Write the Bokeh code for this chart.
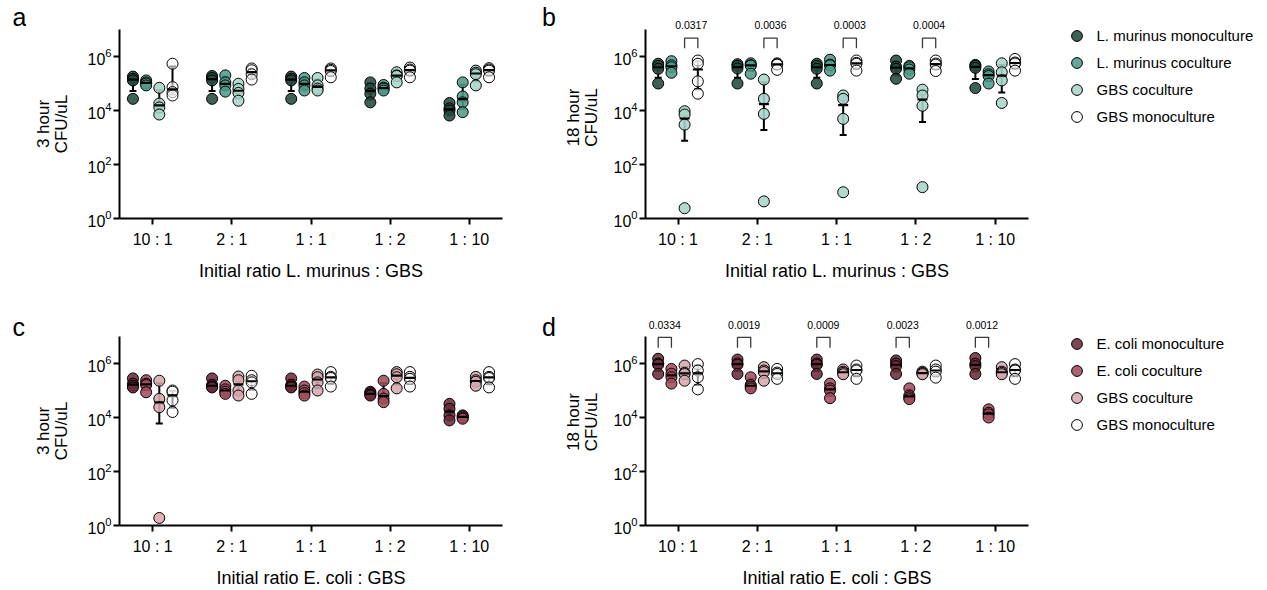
import numpy as np
from bokeh.plotting import figure
from bokeh.models import (Range1d, FixedTicker, Whisker, TeeHead, ColumnDataSource,
                          Legend, LegendItem, Label, LabelSet)
from bokeh.layouts import row, column
from bokeh.embed import file_html
from bokeh.resources import INLINE
from bokeh.core.properties import value

# ---------------- data ----------------
ratios = ["10 : 1", "2 : 1", "1 : 1", "1 : 2", "1 : 10"]

lm_labels = ["L. murinus monoculture", "L. murinus coculture", "GBS coculture", "GBS monoculture"]
ec_labels = ["E. coli monoculture", "E. coli coculture", "GBS coculture", "GBS monoculture"]

# panel a : 3 hour, L. murinus
a_lm_mono = [[1.8e5, 1.5e5, 1.3e5, 2.7e4], [1.9e5, 1.6e5, 1.3e5, 2.7e4], [1.8e5, 1.5e5, 1.3e5, 2.7e4],
             [1.1e5, 6.5e4, 4.2e4, 2.0e4], [1.9e4, 1.2e4, 1.0e4, 6.5e3]]
a_lm_co = [[1.3e5, 1.1e5, 1.0e5, 8.5e4], [2.0e5, 1.1e5, 8.5e4, 5.0e4], [1.6e5, 1.1e5, 8.5e4, 5.5e4],
           [8.8e4, 7.0e4, 6.5e4, 5.5e4], [1.1e5, 3.3e4, 2.0e4, 8.7e3]]
a_gbs_co = [[6.9e4, 1.8e4, 1.3e4, 7.1e3], [9.8e4, 6.3e4, 4.5e4, 2.3e4], [1.6e5, 8.5e4, 6.5e4, 5.5e4],
            [2.6e5, 2.0e5, 1.9e5, 1.1e5], [3.0e5, 2.5e5, 2.2e5, 8.5e4]]
a_gbs_mono = [[5.4e5, 7.3e4, 4.8e4, 3.6e4], [3.6e5, 3.1e5, 2.2e5, 1.4e5], [3.6e5, 3.2e5, 2.9e5, 1.7e5],
              [3.9e5, 3.3e5, 3.0e5, 1.7e5], [3.7e5, 3.3e5, 3.0e5, 1.7e5]]

# panel b : 18 hour, L. murinus
b_lm_mono = [[5.4e5, 4.5e5, 3.5e5, 1.0e5], [5.2e5, 4.5e5, 3.6e5, 1.0e5], [5.4e5, 4.5e5, 3.5e5, 1.0e5],
             [7.1e5, 4.2e5, 3.5e5, 1.5e5], [4.9e5, 4.5e5, 3.8e5, 6.8e4]]
b_lm_co = [[6.7e5, 4.7e5, 4.0e5, 2.5e5], [5.6e5, 4.8e5, 4.6e5, 2.3e5], [7.6e5, 5.0e5, 4.7e5, 3.0e5],
           [4.5e5, 4.0e5, 3.3e5, 2.3e5], [2.8e5, 2.2e5, 1.9e5, 1.0e5]]
b_gbs_co = [[9.4e3, 7.1e3, 3.0e3, 2.4], [1.4e5, 2.7e4, 7.5e3, 4.3], [3.6e4, 2.7e4, 4.9e3, 9.4],
            [5.9e4, 3.6e4, 1.5e4, 14.5], [5.6e5, 2.6e5, 1.3e5, 1.9e4]]
b_gbs_mono = [[7.1e5, 5.4e5, 1.2e5, 4.2e4], [5.6e5, 5.2e5, 5.0e5, 3.2e5], [7.1e5, 5.8e5, 5.4e5, 3.0e5],
              [7.1e5, 5.5e5, 5.0e5, 2.9e5], [8.1e5, 6.0e5, 5.5e5, 3.0e5]]
b_pvals = ["0.0317", "0.0036", "0.0003", "0.0004"]

# panel c : 3 hour, E. coli
c_ec_mono = [[2.8e5, 1.8e5, 1.5e5, 1.3e5], [2.8e5, 1.6e5, 1.4e5, 1.3e5], [2.8e5, 1.6e5, 1.4e5, 1.3e5],
             [9.0e4, 8.0e4, 7.0e4, 6.5e4], [3.2e4, 2.1e4, 1.2e4, 7.8e3]]
c_ec_co = [[2.4e5, 1.8e5, 1.6e5, 8.6e4], [1.5e5, 1.1e5, 9.0e4, 7.5e4], [1.4e5, 1.0e5, 8.0e4, 6.5e4],
           [2.3e5, 7.5e4, 5.0e4, 3.7e4], [1.2e4, 1.1e4, 1.0e4, 9.0e3]]
c_gbs_co = [[2.3e5, 4.9e4, 2.4e4, 1.9], [3.3e5, 2.4e5, 1.0e5, 6.5e4], [3.9e5, 3.1e5, 2.0e5, 1.0e5],
            [4.8e5, 4.0e5, 3.1e5, 1.2e5], [3.2e5, 2.4e5, 2.1e5, 1.5e5]]
c_gbs_mono = [[1.0e5, 9.0e4, 4.3e4, 1.6e4], [3.5e5, 2.4e5, 2.0e5, 7.5e4], [4.8e5, 3.2e5, 2.9e5, 1.4e5],
              [4.8e5, 3.2e5, 2.7e5, 1.4e5], [4.8e5, 3.2e5, 2.9e5, 1.3e5]]

# panel d : 18 hour, E. coli
d_ec_mono = [[1.5e6, 1.0e6, 9.0e5, 4.1e5], [1.4e6, 1.0e6, 9.0e5, 4.1e5], [1.4e6, 1.0e6, 9.0e5, 4.1e5],
             [1.3e6, 1.0e6, 8.0e5, 4.1e5], [1.6e6, 9.8e5, 8.0e5, 4.1e5]]
d_ec_co = [[6.3e5, 4.2e5, 3.1e5, 1.8e5], [3.1e5, 1.6e5, 1.4e5, 1.2e5], [1.8e5, 1.2e5, 1.0e5, 5.2e4],
           [1.2e5, 6.5e4, 5.6e4, 4.8e4], [2.0e4, 1.5e4, 1.3e4, 1.0e4]]
d_gbs_co = [[8.4e5, 4.5e5, 4.1e5, 2.3e5], [7.3e5, 5.5e5, 4.8e5, 2.3e5], [6.0e5, 5.0e5, 4.5e5, 4.0e5],
            [5.0e5, 4.5e5, 4.3e5, 4.0e5], [7.3e5, 5.0e5, 4.5e5, 4.0e5]]
d_gbs_mono = [[9.5e5, 5.5e5, 3.1e5, 1.1e5], [6.3e5, 4.6e5, 4.1e5, 2.7e5], [8.4e5, 6.0e5, 5.5e5, 2.7e5],
              [8.4e5, 6.0e5, 5.0e5, 3.0e5], [9.5e5, 6.0e5, 5.5e5, 2.7e5]]
d_pvals = ["0.0334", "0.0019", "0.0009", "0.0023", "0.0012"]

# ---------------- style ----------------
FONT = "Liberation Sans"
lm_colors = ["#254a40", "#4e9b8b", "#a9d5ca", "#ffffff"]
ec_colors = ["#6b2c3a", "#a24d5e", "#d7a9ae", "#ffffff"]
OFFSETS = [-0.25, -0.083, 0.083, 0.25]
PX_DEC = 27.0          # pixels per decade on the y axes
TOTAL_H = 587


def make_panel(ylabel, xlabel, series, colors, labels, xmin, frame_h, top_border,
               bottom_border, left_border, right_border, ylab_standoff=14,
               xl_standoff=(6, 10), pvals=None, pair=None, p_y=None, br_top=None,
               br_bot=None, show_legend=False, legend_y=88.0):
    p = figure(frame_width=383, frame_height=frame_h, y_axis_type="log",
               x_range=Range1d(xmin, 4.42), y_range=Range1d(1, 10 ** (frame_h / PX_DEC)),
               output_backend="svg", toolbar_location=None,
               min_border_left=left_border, min_border_right=right_border,
               min_border_top=top_border, min_border_bottom=bottom_border)
    p.outline_line_color = None
    p.xgrid.visible = False
    p.ygrid.visible = False

    for ax in (p.xaxis[0], p.yaxis[0]):
        ax.axis_line_width = 2
        ax.axis_line_color = "black"
        ax.major_tick_line_width = 2
        ax.major_tick_line_color = "black"
        ax.major_tick_out = 6
        ax.major_tick_in = 0
        ax.minor_tick_line_color = None
        ax.major_label_text_font = FONT
        ax.major_label_text_font_size = "16px"
        ax.major_label_text_color = "black"
        ax.axis_label_text_font = FONT
        ax.axis_label_text_font_style = "normal"
        ax.axis_label_text_color = "black"
        ax.axis_label_text_line_height = 0.95

    p.xaxis.axis_label_text_font_size = "18px"
    p.yaxis.axis_label_text_font_size = "17px"

    p.yaxis.ticker = FixedTicker(ticks=[1, 1e2, 1e4, 1e6])
    p.yaxis.bounds = (1, 1e7)
    p.yaxis.major_label_standoff = 2
    p.yaxis.axis_label = ylabel
    p.yaxis.axis_label_standoff = ylab_standoff

    p.xaxis.ticker = FixedTicker(ticks=list(range(len(ratios))))
    p.xaxis.major_label_overrides = {i: r for i, r in enumerate(ratios)}
    p.xaxis.major_label_standoff = xl_standoff[0]
    p.xaxis.axis_label = xlabel
    p.xaxis.axis_label_standoff = xl_standoff[1]

    # significance brackets
    if pvals:
        i, j = pair
        n = len(pvals)
        bxs = [[g + OFFSETS[i], g + OFFSETS[i], g + OFFSETS[j], g + OFFSETS[j]] for g in range(n)]
        bys = [[10 ** br_bot, 10 ** br_top, 10 ** br_top, 10 ** br_bot] for _ in range(n)]
        p.multi_line(bxs, bys, line_color="#3a3a3a", line_width=1.3)

    # individual points
    renderers = []
    for si, (groups, color) in enumerate(zip(series, colors)):
        xs, ys = [], []
        for gi, vals in enumerate(groups):
            for v in vals:
                xs.append(gi + OFFSETS[si])
                ys.append(v)
        r = p.scatter(xs, ys, size=11, fill_color=color,
                      fill_alpha=0.6 if color == "#ffffff" else 0.88,
                      line_color="black", line_width=1)
        renderers.append(r)

    # median with interquartile range
    for si, groups in enumerate(series):
        gx, med, q1, q3 = [], [], [], []
        for gi, vals in enumerate(groups):
            a, m, b = np.percentile(np.array(vals), [25, 50, 75], method="weibull")
            gx.append(gi + OFFSETS[si])
            q1.append(a)
            med.append(m)
            q3.append(b)
        src = ColumnDataSource(dict(x=gx, med=med, q1=q1, q3=q3))
        p.scatter("x", "med", source=src, marker="dash", size=10,
                  line_color="black", line_width=2.2)
        p.add_layout(Whisker(source=src, base="x", lower="q1", upper="q3",
                             dimension="height", line_width=2, line_color="black",
                             lower_head=TeeHead(size=7, line_width=2, line_color="black"),
                             upper_head=TeeHead(size=7, line_width=2, line_color="black")))

    if pvals:
        i, j = pair
        px = [g + (OFFSETS[i] + OFFSETS[j]) / 2 for g in range(len(pvals))]
        lsrc = ColumnDataSource(dict(x=px, y=[10 ** p_y] * len(pvals), t=pvals))
        p.add_layout(LabelSet(source=lsrc, x="x", y="y", text="t",
                              text_align="center", text_baseline="middle",
                              text_font=value(FONT), text_font_size="10.5px",
                              text_color="black"))

    if show_legend:
        items = [LegendItem(label=lab, renderers=[r]) for lab, r in zip(labels, renderers)]
        leg = Legend(items=items, location=(34.5, legend_y), glyph_width=27, glyph_height=27,
                     spacing=0, padding=0, margin=20, label_standoff=7,
                     label_text_font=FONT, label_text_font_size="15px",
                     label_text_color="black",
                     border_line_color=None, background_fill_alpha=0)
        p.add_layout(leg, "right")
    return p


def letters_fig(width, texts):
    f = figure(width=width, height=TOTAL_H, x_range=Range1d(0, 1), y_range=Range1d(0, 1),
               x_axis_location=None, y_axis_location=None, output_backend="svg",
               toolbar_location=None, min_border=0)
    f.outline_line_color = None
    f.xgrid.visible = False
    f.ygrid.visible = False
    for txt, lx, ly in texts:
        f.add_layout(Label(x=lx, y=ly, x_units="screen", y_units="screen", text=txt,
                           text_font=FONT, text_font_size="25px",
                           text_baseline="top", text_color="black"))
    return f


# panel letters (tops of their text boxes at y = 2 and y = 312 from the page top)
la = letters_fig(26, [("a", 12, TOTAL_H - 2), ("c", 12, TOTAL_H - 312)])
lb = letters_fig(16, [("b", 1.5, TOTAL_H - 2), ("d", 1.5, TOTAL_H - 312)])

pa = make_panel("3 hour\nCFU/uL", "Initial ratio L. murinus : GBS",
                [a_lm_mono, a_lm_co, a_gbs_co, a_gbs_mono], lm_colors, lm_labels,
                xmin=-0.42, frame_h=189, top_border=29, bottom_border=98,
                left_border=93, right_border=38, ylab_standoff=13, xl_standoff=(6, 10))
pc = make_panel("3 hour\nCFU/uL", "Initial ratio E. coli : GBS",
                [c_ec_mono, c_ec_co, c_gbs_co, c_gbs_mono], ec_colors, ec_labels,
                xmin=-0.42, frame_h=189, top_border=20, bottom_border=62,
                left_border=93, right_border=38, ylab_standoff=13, xl_standoff=(6, 10))
pb = make_panel("18 hour\nCFU/uL", "Initial ratio L. murinus : GBS",
                [b_lm_mono, b_lm_co, b_gbs_co, b_gbs_mono], lm_colors, lm_labels,
                xmin=-0.41, frame_h=202, top_border=16, bottom_border=98,
                left_border=89, right_border=232, ylab_standoff=9, xl_standoff=(6, 10),
                pvals=b_pvals, pair=(2, 3), p_y=7.18, br_top=6.68, br_bot=6.31,
                show_legend=True, legend_y=88.5)
pd_ = make_panel("18 hour\nCFU/uL", "Initial ratio E. coli : GBS",
                 [d_ec_mono, d_ec_co, d_gbs_co, d_gbs_mono], ec_colors, ec_labels,
                 xmin=-0.41, frame_h=207, top_border=2, bottom_border=62,
                 left_border=89, right_border=232, ylab_standoff=9, xl_standoff=(6, 10),
                 pvals=d_pvals, pair=(0, 1), p_y=7.43, br_top=6.97, br_bot=6.58,
                 show_legend=True, legend_y=87.5)

layout = row(la, column(pa, pc), lb, column(pb, pd_))

open("out.html", "w").write(file_html(layout, INLINE))
